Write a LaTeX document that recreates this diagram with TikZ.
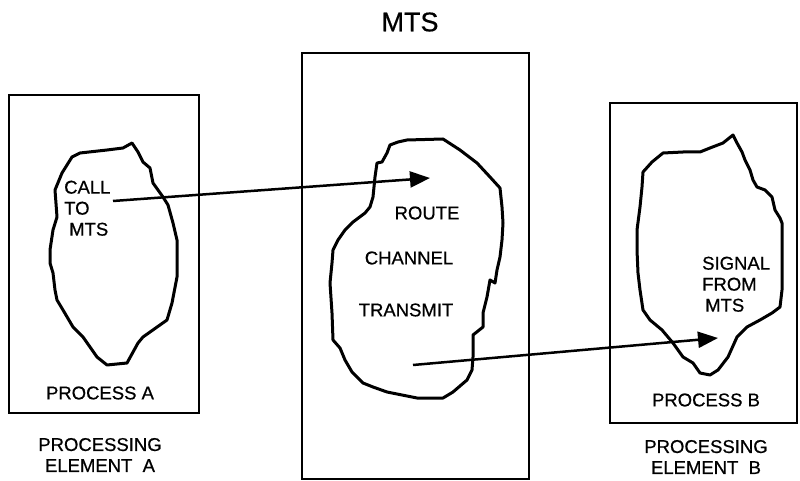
\documentclass[tikz,border=0pt]{standalone}
\usepackage{fontspec}
\setmainfont{Liberation Sans}
\newfontfamily\medfont{Liberation Sans}[FakeBold=0.6]
\usetikzlibrary{arrows.meta}
\begin{document}
\begin{tikzpicture}[x=1pt,y=-1pt,
  frame/.style={draw,line width=2pt},
  blob/.style={draw,line width=3pt,line join=round},
  lbl/.style={font=\fontsize{18.5}{21}\medfont,inner sep=0pt},
  ttl/.style={font=\fontsize{27}{30}\medfont,inner sep=0pt},
  msg/.style={line width=2.5pt,-{Triangle[length=20pt,width=16pt]}}
]
\useasboundingbox (0,0) rectangle (800,481);
% frames
\draw[frame] (9,95) rectangle (199,413);
\draw[frame] (302,53) rectangle (529,479);
\draw[frame] (610,103) rectangle (797,423);
% left blob
\draw[blob] (132,143) -- (138,152) -- (143,162) -- (150,168) -- (153,183) -- (163,197) -- (168,205) -- (173,223) -- (177,240) -- (177,277) -- (172,303) -- (167,320) -- (143,337) -- (138,343) -- (127,363) -- (107,365) -- (97,357) -- (83,337) -- (73,327) -- (63,310) -- (57,300) -- (55,290) -- (53,273) -- (50,263) -- (50,250) -- (53,230) -- (57,217) -- (55,190) -- (62,173) -- (72,157) -- (80,153) -- (107,150) -- (123,148) -- cycle;
% middle blob
\draw[blob] (390,145) -- (398,142) -- (407,140) -- (443,139) -- (460,150) -- (477,163) -- (490,177) -- (500,188) -- (502,207) -- (503,223) -- (502,240) -- (500,257) -- (497,270) -- (495,283) -- (490,280) -- (487,297) -- (483,313) -- (483,327) -- (473,335) -- (473,357) -- (472,370) -- (467,380) -- (453,392) -- (443,398) -- (417,398) -- (387,392) -- (373,387) -- (363,383) -- (352,372) -- (345,360) -- (340,348) -- (333,340) -- (332,313) -- (330,283) -- (332,263) -- (333,250) -- (338,240) -- (345,230) -- (353,222) -- (365,213) -- (370,207) -- (373,197) -- (375,177) -- (377,163) -- (382,162) -- (387,153) -- cycle;
% right blob
\draw[blob] (733,135) -- (737,143) -- (742,152) -- (745,160) -- (750,170) -- (753,180) -- (757,187) -- (765,190) -- (772,197) -- (775,210) -- (780,218) -- (782,223) -- (782,257) -- (782,290) -- (780,307) -- (772,313) -- (760,320) -- (747,327) -- (737,337) -- (728,357) -- (718,370) -- (710,375) -- (700,373) -- (693,363) -- (683,357) -- (673,343) -- (662,330) -- (650,320) -- (643,310) -- (640,290) -- (638,273) -- (637,250) -- (637,230) -- (640,207) -- (642,187) -- (643,172) -- (652,162) -- (663,153) -- (683,152) -- (700,152) -- (710,148) -- (723,143) -- cycle;
% texts
\node[ttl] (mts) at (410,22) {MTS};
\node[lbl,align=left,anchor=north west] (call) at (64,180.5) {CALL\\TO\\\hspace*{5pt}MTS};
\node[lbl] (route) at (427,213) {ROUTE};
\node[lbl] (channel) at (409,258) {CHANNEL};
\node[lbl] (transmit) at (406,310) {TRANSMIT};
\node[lbl,align=left,anchor=north west] (signal) at (702,256.5) {SIGNAL\\FROM\\\hspace*{3pt}MTS};
\node[lbl] (pa) at (100,393) {PROCESS A};
\node[lbl] (pb) at (706,400) {PROCESS B};
\node[lbl,align=center] (pea) at (100,455) {PROCESSING\\ELEMENT\ \ A};
\node[lbl,align=center] (peb) at (706,457) {PROCESSING\\ELEMENT\ \ B};
% arrows
\coordinate (a1s) at (113,201);
\coordinate (a1e) at (430,178);
\coordinate (a2s) at (413,365);
\coordinate (a2e) at (718,338);
\draw[msg] (a1s) -- (a1e);
\draw[msg] (a2s) -- (a2e);
\end{tikzpicture}
\end{document}
